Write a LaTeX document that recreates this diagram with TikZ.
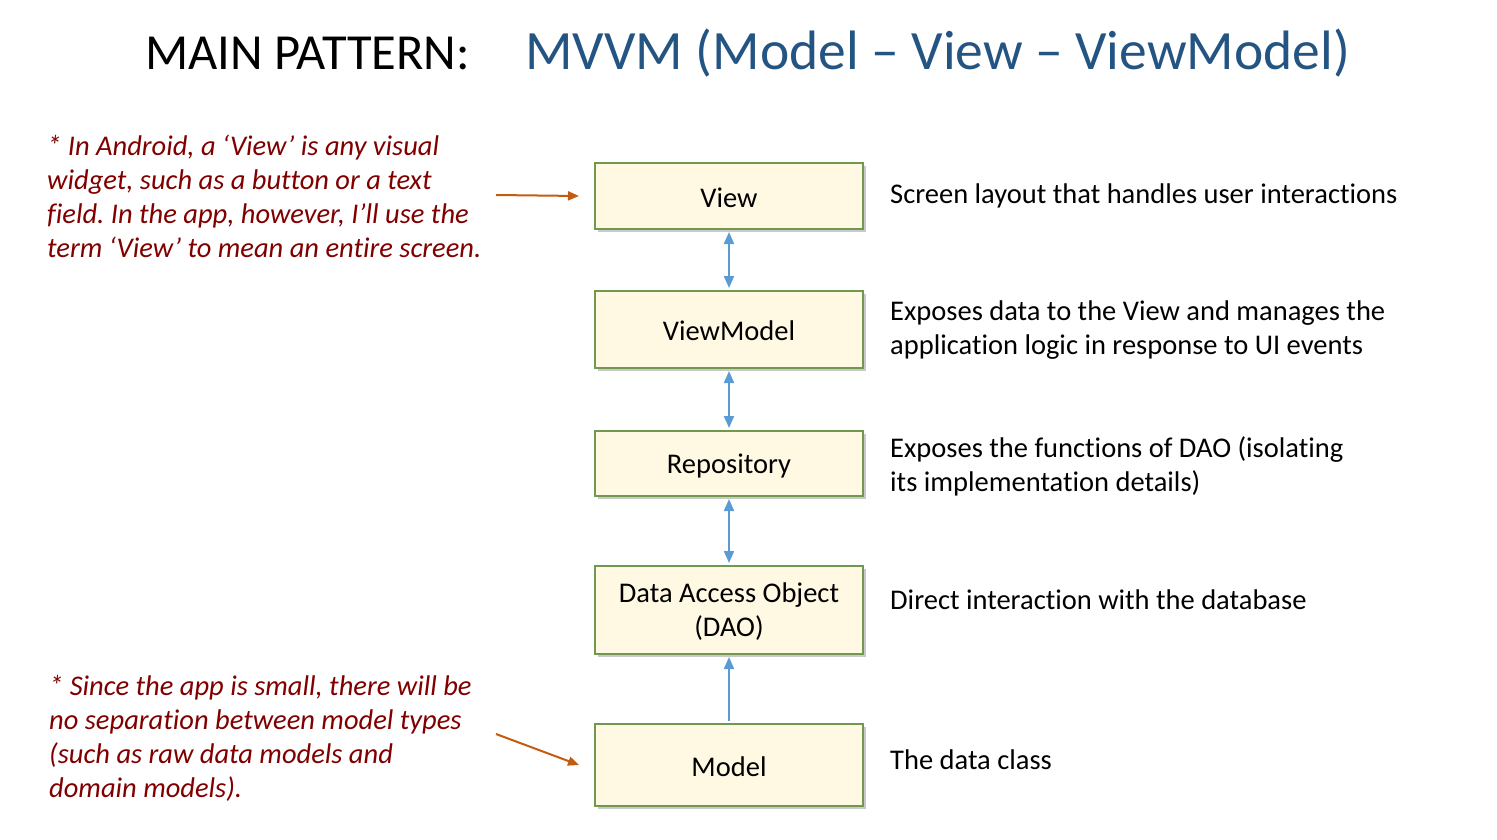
\documentclass[tikz,border=0pt]{standalone}
\usepackage{fontspec}
\setmainfont[Ligatures=NoCommon]{Carlito}
\usetikzlibrary{arrows.meta,shadows}
\frenchspacing
\definecolor{boxfill}{RGB}{255,249,227}
\definecolor{boxline}{RGB}{112,152,80}
\definecolor{conn}{RGB}{91,155,213}
\definecolor{orangearr}{RGB}{197,90,17}
\definecolor{notecol}{RGB}{128,0,0}
\definecolor{titleblue}{RGB}{36,84,130}
\newcommand{\lowertxt}[2]{\raisebox{-#1}[\height][\depth]{#2}}
\tikzset{
  layerbox/.style={draw=boxline, line width=2pt, fill=boxfill, minimum width=268pt,
    align=center, inner sep=0pt, font=\fontsize{28.5}{34}\selectfont,
    drop shadow={shadow xshift=3pt, shadow yshift=-3pt, opacity=0.35, fill=black!60}},
  desc/.style={anchor=west, align=left, inner sep=0pt, font=\fontsize{28.5}{34}\selectfont},
  note/.style={anchor=west, align=left, inner sep=0pt, text=notecol, font=\fontsize{28.5}{34}\selectfont\itshape},
  link/.style={draw=conn, line width=2pt, shorten <=2pt, shorten >=2pt},
  pointer/.style={draw=orangearr, line width=2pt, -{Triangle[width=9pt,length=11pt]}},
  bitip/.style={{Triangle[width=10pt,length=12pt]}-{Triangle[width=10pt,length=12pt]}},
  uptip/.style={-{Triangle[width=10pt,length=12pt]}}
}
\begin{document}
\begin{tikzpicture}[x=1pt,y=-1pt]
\useasboundingbox (0,0) rectangle (1497,840);
% title
\node[anchor=base west, inner sep=0pt, font=\fontsize{50.5}{55}\selectfont] (t1) at (145,70) {MAIN PATTERN:};
\node[anchor=base west, inner sep=0pt, text=titleblue, font=\fontsize{55.5}{60}\selectfont] (t2) at (525,70) {MVVM (Model – View – ViewModel)};
% boxes
\node[layerbox, minimum height=66pt] (v) at (729,196) {\lowertxt{1.5pt}{View}};
\node[layerbox, minimum height=77pt] (vm) at (729,329.5) {\lowertxt{1.5pt}{ViewModel}};
\node[layerbox, minimum height=65pt] (r) at (729,463.5) {\lowertxt{2.5pt}{Repository}};
\node[layerbox, minimum height=88pt] (d) at (729,610) {\lowertxt{3pt}{\begin{tabular}{@{}c@{}}Data Access Object\\(DAO)\end{tabular}}};
\node[layerbox, minimum height=82pt] (m) at (729,765) {\lowertxt{2pt}{Model}};
% connectors
\draw[link, bitip] (v) -- (vm);
\draw[link, bitip] (vm) -- (r);
\draw[link, bitip] (r) -- (d);
\draw[link, uptip] (m) -- (d);
% descriptions
\node[desc] (dv) at (890,196) {Screen layout that handles user interactions};
\node[desc] (dvm) at (890,330) {Exposes data to the View and manages the\\application logic in response to UI events};
\node[desc] (dr) at (890,466) {Exposes the functions of DAO (isolating\\its implementation details)};
\node[desc] (dd) at (890,600) {Direct interaction with the database};
\node[desc] (dm) at (890,760) {The data class};
% notes
\node[note] (n1) at (47,196) {* In Android, a ‘View’ is any visual\\widget, such as a button or a text\\field. In the app, however, I’ll use the\\term ‘View’ to mean an entire screen.};
\node[note] (n2) at (49,738) {* Since the app is small, there will be\\no separation between model types\\(such as raw data models and\\domain models).};
\coordinate (p1) at (496,195);
\coordinate (p2) at (496,734);
\draw[pointer] (p1) -- ([xshift=-15pt]v.west);
\draw[pointer] (p2) -- ([xshift=-15pt]m.west);
\end{tikzpicture}
\end{document}
